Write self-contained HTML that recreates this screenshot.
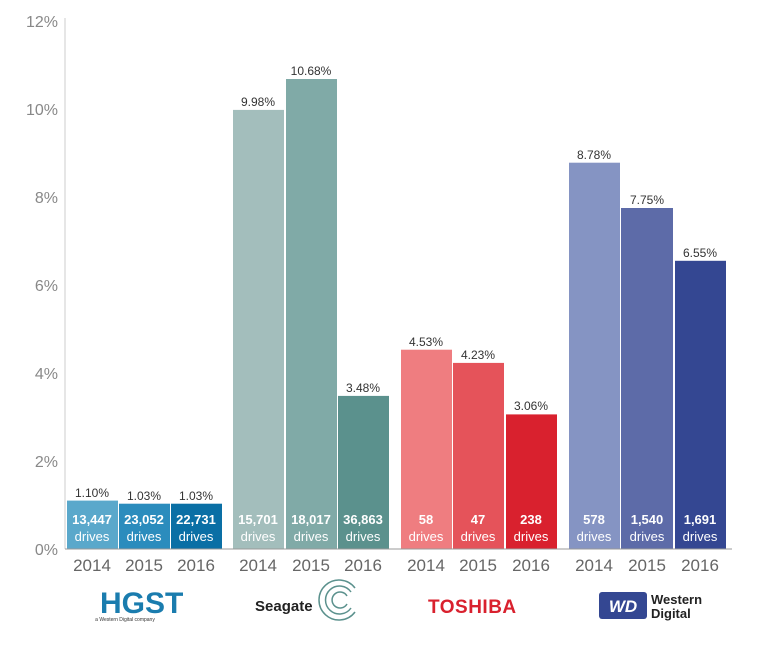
<!DOCTYPE html>
<html><head><style>body{margin:0;background:#fff}svg{display:block}</style></head><body>
<svg width="773" height="651" xmlns="http://www.w3.org/2000/svg" font-family="Liberation Sans, sans-serif">
<g fill="#888" font-size="16" text-anchor="end">
<text x="58" y="555">0%</text><text x="58" y="467">2%</text><text x="58" y="379">4%</text>
<text x="58" y="291">6%</text><text x="58" y="203">8%</text><text x="58" y="115">10%</text><text x="58" y="27">12%</text>
</g>
<line x1="65" y1="18" x2="65" y2="549" stroke="#ccc"/>
<g id="bars" font-size="12" text-anchor="middle">
<rect x="67" y="500.6" width="51" height="48.4" fill="#5aa8cb"/>
<rect x="119" y="503.7" width="51" height="45.3" fill="#2b8cbd"/>
<rect x="171" y="503.7" width="51" height="45.3" fill="#0a6fa5"/>
<rect x="233" y="109.9" width="51" height="439.1" fill="#a3bebc"/>
<rect x="286" y="79" width="51" height="470" fill="#80aaa7"/>
<rect x="338" y="395.9" width="51" height="153.1" fill="#5b918d"/>
<rect x="401" y="349.7" width="51" height="199.3" fill="#ef7d80"/>
<rect x="453" y="362.9" width="51" height="186.1" fill="#e5535a"/>
<rect x="506" y="414.4" width="51" height="134.6" fill="#d9212e"/>
<rect x="569" y="162.7" width="51" height="386.3" fill="#8594c3"/>
<rect x="621" y="208" width="52" height="341" fill="#5d6ba8"/>
<rect x="675" y="260.8" width="51" height="288.2" fill="#344792"/>
<g fill="#333">
<text x="92" y="497">1.10%</text><text x="144" y="500">1.03%</text><text x="196" y="500">1.03%</text>
<text x="258" y="106">9.98%</text><text x="311" y="75">10.68%</text><text x="363" y="392">3.48%</text>
<text x="426" y="346">4.53%</text><text x="478" y="359">4.23%</text><text x="531" y="410">3.06%</text>
<text x="594" y="159">8.78%</text><text x="647" y="204">7.75%</text><text x="700" y="257">6.55%</text>
</g>
<g fill="#fff" font-size="13" font-weight="bold">
<text x="92" y="524">13,447</text><text x="144" y="524">23,052</text><text x="196" y="524">22,731</text>
<text x="258" y="524">15,701</text><text x="311" y="524">18,017</text><text x="363" y="524">36,863</text>
<text x="426" y="524">58</text><text x="478" y="524">47</text><text x="531" y="524">238</text>
<text x="594" y="524">578</text><text x="647" y="524">1,540</text><text x="700" y="524">1,691</text>
</g>
<g fill="#fff" font-size="13">
<text x="92" y="541">drives</text><text x="144" y="541">drives</text><text x="196" y="541">drives</text>
<text x="258" y="541">drives</text><text x="311" y="541">drives</text><text x="363" y="541">drives</text>
<text x="426" y="541">drives</text><text x="478" y="541">drives</text><text x="531" y="541">drives</text>
<text x="594" y="541">drives</text><text x="647" y="541">drives</text><text x="700" y="541">drives</text>
</g>
</g>
<line x1="65" y1="549" x2="732" y2="549" stroke="#999"/>
<g fill="#666" font-size="17" text-anchor="middle">
<text x="92" y="571">2014</text><text x="144" y="571">2015</text><text x="196" y="571">2016</text>
<text x="258" y="571">2014</text><text x="311" y="571">2015</text><text x="363" y="571">2016</text>
<text x="426" y="571">2014</text><text x="478" y="571">2015</text><text x="531" y="571">2016</text>
<text x="594" y="571">2014</text><text x="647" y="571">2015</text><text x="700" y="571">2016</text>
</g>
<text x="100" y="613" fill="#1a7cae" font-size="30" font-weight="bold">HGST</text>
<text x="125" y="621" fill="#333" font-size="5" text-anchor="middle">a Western Digital company</text>
<text x="255" y="611" fill="#222" font-size="15" font-weight="bold">Seagate</text>
<g fill="none" stroke="#5b918d" stroke-width="1.5">
<path d="M355 612 A20 20 0 1 1 355 588"/><path d="M351 608 A14 14 0 1 1 351 592"/><path d="M347 604 A8 8 0 1 1 347 596"/>
</g>
<text x="428" y="613" fill="#d9212e" font-size="19" font-weight="bold" letter-spacing="0.5">TOSHIBA</text>
<rect x="599" y="592" width="48" height="27" rx="3" fill="#344792"/>
<text x="623" y="612" fill="#fff" font-size="17" font-weight="bold" font-style="italic" text-anchor="middle">WD</text>
<text x="651" y="604" fill="#222" font-size="13" font-weight="bold">Western</text>
<text x="651" y="618" fill="#222" font-size="13" font-weight="bold">Digital</text>
</svg>
</body></html>
